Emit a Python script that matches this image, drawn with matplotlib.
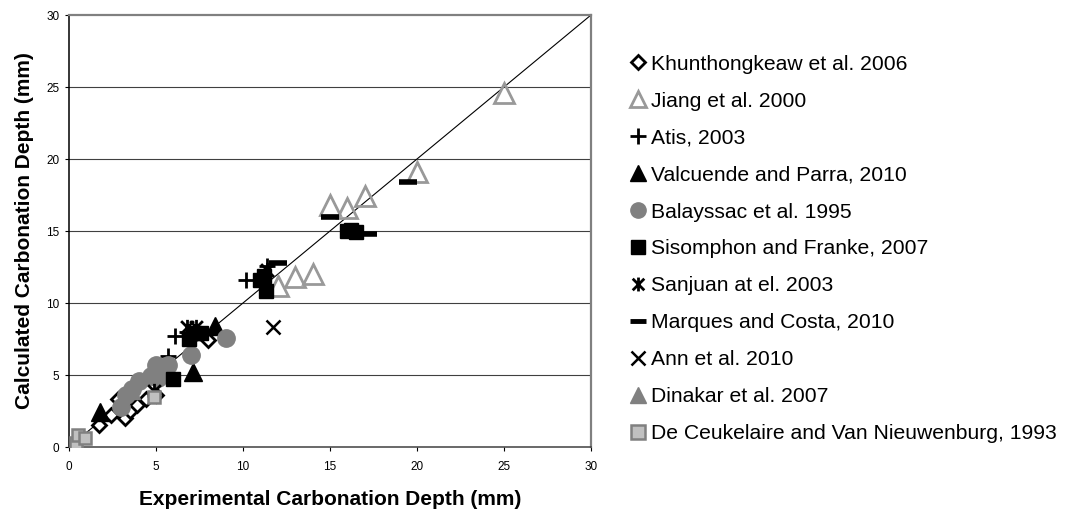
import matplotlib
matplotlib.use("Agg")
import matplotlib.pyplot as plt
from matplotlib.lines import Line2D
from matplotlib.path import Path

plt.rcParams['font.family'] = ['Liberation Sans', 'DejaVu Sans']

# -------------------------------
# data (experimental x, calculated y)
# -------------------------------
khun_x = [1.7, 2.4, 2.8, 3.2, 3.5, 3.9, 4.4, 5.0, 8.0]
khun_y = [1.5, 2.2, 3.3, 2.0, 2.5, 2.9, 3.3, 3.6, 7.4]

jiang_x = [12, 13, 14, 15, 16, 17, 20, 25]
jiang_y = [11.2, 11.8, 12.0, 16.8, 16.6, 17.4, 19.1, 24.6]

atis_x = [5.7, 6.1, 10.2, 11.4, 6.8]
atis_y = [6.3, 7.7, 11.6, 12.6, 8.0]

valc_x = [1.8, 7.1, 8.4]
valc_y = [2.4, 5.2, 8.4]

bala_x = [3.0, 3.3, 3.6, 4.0, 4.7, 5.0, 5.1, 5.7, 7.0, 9.0]
bala_y = [2.8, 3.6, 4.0, 4.6, 4.9, 5.7, 4.8, 5.7, 6.4, 7.6]

siso_x = [6.0, 6.9, 7.2, 7.6, 11.0, 11.3, 11.2, 16.0, 16.5, 16.2]
siso_y = [4.7, 7.5, 7.9, 7.9, 11.6, 10.8, 11.9, 15.0, 14.9, 15.1]

sanj_x = [4.9, 6.8, 7.3, 11.4]
sanj_y = [3.9, 8.3, 8.3, 12.3]

marq_x = [7.6, 12.0, 15.0, 17.2, 19.5]
marq_y = [8.0, 12.8, 16.0, 14.8, 18.4]

ann_x = [11.7]
ann_y = [8.3]

dina_x = [3.6, 5.0]
dina_y = [3.9, 5.6]

ceuk_x = [0.4, 0.5, 0.9, 4.9]
ceuk_y = [0.3, 0.8, 0.6, 3.5]

labels = ["Khunthongkeaw et al. 2006", "Jiang et al. 2000", "Atis, 2003",
          "Valcuende and Parra, 2010", "Balayssac et al. 1995",
          "Sisomphon and Franke, 2007", "Sanjuan at el. 2003",
          "Marques and Costa, 2010", "Ann et al. 2010",
          "Dinakar et al. 2007", "De Ceukelaire and Van Nieuwenburg, 1993"]

# Excel style asterisk: an X with a vertical bar through it
star = Path([(-0.5, -0.5), (0.5, 0.5), (-0.5, 0.5), (0.5, -0.5), (0, -0.6), (0, 0.6)],
            [Path.MOVETO, Path.LINETO, Path.MOVETO, Path.LINETO, Path.MOVETO, Path.LINETO])

# marker styles: (marker, size, face, edge, edge width)
styles = [
    ("D", 7, "white", "black", 2.0),
    ("^", 14, "none", "#999999", 2.0),
    ("+", 11, "black", "black", 2.0),
    ("^", 13, "black", "black", 1.0),
    ("o", 12.5, "#808080", "#808080", 1.0),
    ("s", 10.5, "black", "black", 1.0),
    (star, 11, "black", "black", 2.0),
    ("_", 13, "black", "black", 4.0),
    ("x", 10, "black", "black", 1.8),
    ("^", 11, "#808080", "#808080", 1.0),
    ("s", 9, "#c0c0c0", "#808080", 1.8),
]
series = [(khun_x, khun_y), (jiang_x, jiang_y), (atis_x, atis_y),
          (valc_x, valc_y), (bala_x, bala_y), (siso_x, siso_y),
          (sanj_x, sanj_y), (marq_x, marq_y), (ann_x, ann_y),
          (dina_x, dina_y), (ceuk_x, ceuk_y)]

# -------------------------------
# figure
# -------------------------------
fig = plt.figure(figsize=(10.67, 5.11), dpi=100)
ax = fig.add_axes([69 / 1067, 1 - 447 / 511, (591 - 69) / 1067, (447 - 15) / 511])

ax.set_xlim(0, 30)
ax.set_ylim(0, 30)
ax.set_xticks(range(0, 31, 5))
ax.set_yticks(range(0, 31, 5))
for yv in range(5, 30, 5):
    ax.axhline(yv, color="#404040", lw=0.8, zorder=1)
ax.plot([0, 30], [0, 30], color="black", lw=0.8, zorder=2)

for (xs, ys), (m, ms, fc, ec, mew) in zip(series, styles):
    ax.plot(xs, ys, linestyle="none", marker=m, markersize=ms,
            markerfacecolor=fc, markeredgecolor=ec, markeredgewidth=mew,
            color=ec, zorder=3)

ax.spines["left"].set_color("black")
ax.spines["left"].set_linewidth(1.1)
ax.spines["bottom"].set_color("#404040")
ax.spines["bottom"].set_linewidth(1.1)
for s in ("top", "right"):
    ax.spines[s].set_color("#808080")
    ax.spines[s].set_linewidth(1.6)

ax.tick_params(axis="both", direction="out", length=3, width=0.8, labelsize=8.5)
ax.tick_params(axis="x", pad=7)
ax.tick_params(axis="y", pad=4)

ax.set_xlabel("Experimental Carbonation Depth (mm)", fontsize=15, fontweight="bold", labelpad=12)
ax.set_ylabel("Calculated Carbonation Depth (mm)", fontsize=15, fontweight="bold", labelpad=9)

# legend handles with their own sizes
leg_sizes = [7, 11, 11, 11, 11, 10, 10, 11, 10, 11, 10]
handles = []
for (m, ms, fc, ec, mew), lms in zip(styles, leg_sizes):
    handles.append(Line2D([], [], linestyle="none", marker=m, markersize=lms,
                          markerfacecolor=fc, markeredgecolor=ec,
                          markeredgewidth=min(mew, 2.0) if m != "_" else 3.5))

fig.legend(handles, labels, loc="center left",
           bbox_to_anchor=(630 / 1067, 1 - 249 / 511),
           frameon=False, fontsize=15.2, handlelength=0.8, handletextpad=0.2,
           labelspacing=0.85, borderpad=0, borderaxespad=0)

fig.savefig("out.png", dpi=100)
plt.close(fig)
